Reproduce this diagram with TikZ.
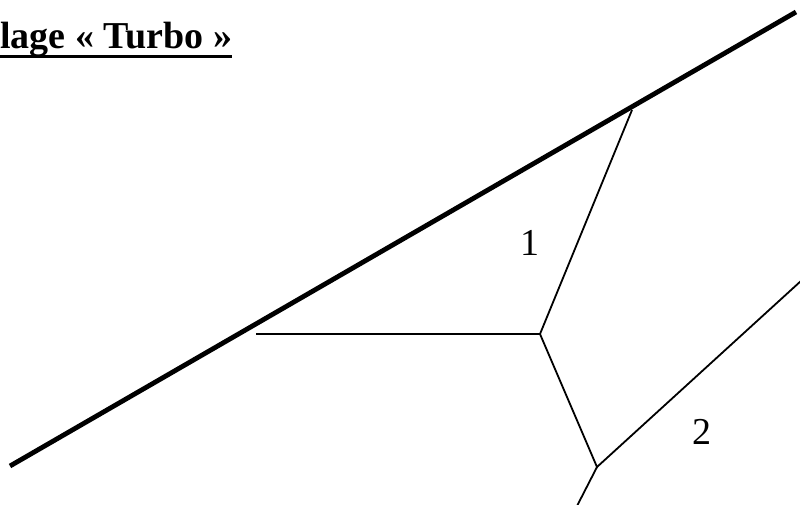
\documentclass[tikz,border=0pt]{standalone}
\usepackage{fontspec}
\setmainfont{Liberation Serif}
\begin{document}
\begin{tikzpicture}[x=1pt,y=-1pt,
  thickline/.style={line width=4.8pt},
  thinline/.style={line width=1.8pt},
  lbl/.style={font=\fontsize{38}{44}\selectfont, inner sep=0pt}]
\useasboundingbox (0,0) rectangle (800,504);
% title
\node[anchor=base west, inner sep=0pt, font=\fontsize{38}{44}\selectfont\bfseries] (title) at (0,48) {lage « Turbo »};
\draw[line width=3pt] (0,56) -- (title.east |- 0,56);
% thick line
\coordinate (A) at (10,466);
\coordinate (B) at (796,12);
\draw[thickline] (A) -- (B);
% thin lines
\coordinate (h) at (256,334);
\coordinate (j1) at (540,334);
\coordinate (t) at (632,110);
\coordinate (j2) at (597,467);
\coordinate (r) at (802,280);
\coordinate (b) at (577,506);
\draw[thinline] (h) -- (j1) -- (t);
\draw[thinline] (j1) -- (j2) -- (r);
\draw[thinline] (j2) -- (b);
\node[lbl] (n1) at (530,243) {1};
\node[lbl] (n2) at (702,432) {2};
\end{tikzpicture}
\end{document}
